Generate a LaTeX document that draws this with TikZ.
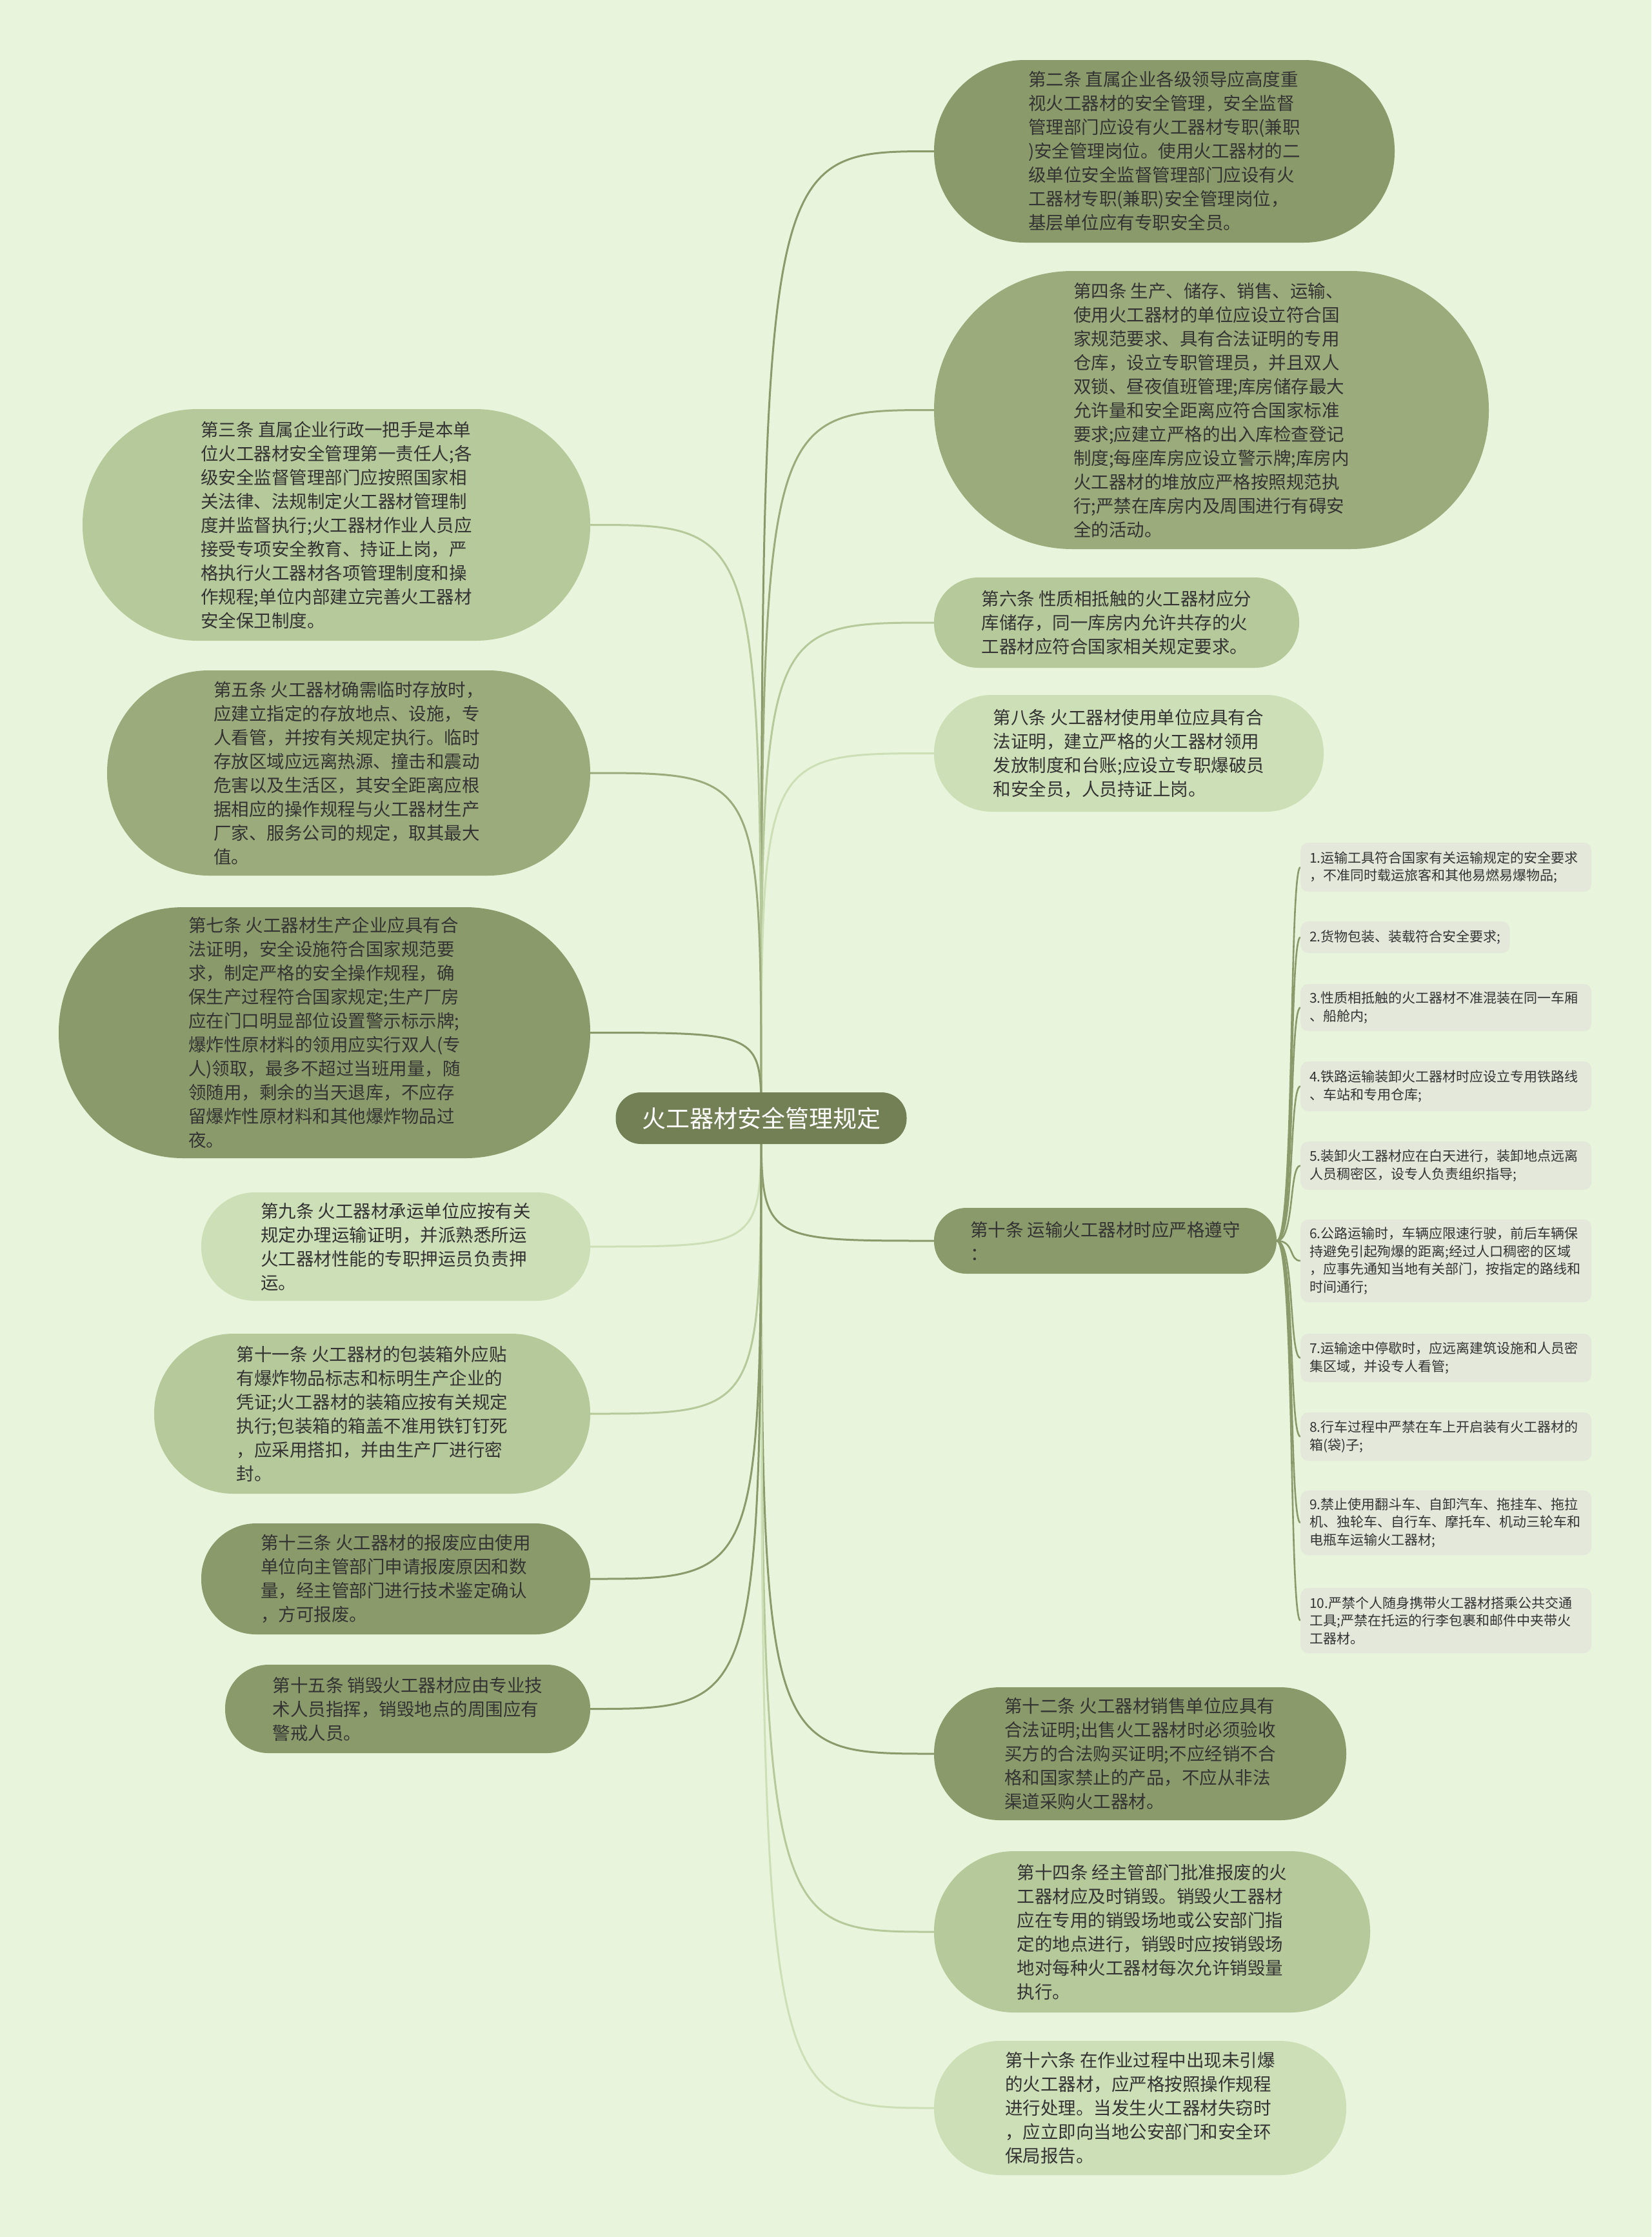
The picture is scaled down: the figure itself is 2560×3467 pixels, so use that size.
\documentclass[tikz,border=0pt]{standalone}
\usepackage{fontspec}
\setmainfont{Noto Sans CJK SC}
\pgfdeclarelayer{back}
\pgfdeclarelayer{bg}
\pgfsetlayers{back,bg,main}
\definecolor{bgc}{HTML}{E8F4DC}
\definecolor{rootc}{HTML}{738055}
\definecolor{cA}{HTML}{8A9A6A}
\definecolor{cB}{HTML}{9BAB7B}
\definecolor{cC}{HTML}{B6C99B}
\definecolor{cD}{HTML}{CDDFB6}
\definecolor{subc}{HTML}{E3E8DA}
\definecolor{txt}{HTML}{333333}
\tikzset{
  capsule/.style={rectangle, inner sep=0pt, align=left, text=txt,
    font=\fontsize{27.5}{37}\selectfont},
  subbase/.style={rectangle, anchor=west, inner xsep=14pt, inner ysep=0pt,
    align=left, text=txt, fill=subc, rounded corners=12pt,
    font=\fontsize{21}{27.5}\selectfont},
  subbox/.style={subbase, text width=423pt},
  conn/.style={line width=3pt},
  subconn/.style={line width=2.6pt, cA},
}
\newcommand{\capnode}[7]{%
  \node[capsule, fill=#6, minimum width=#4pt, minimum height=#5pt,
    rounded corners=\fpeval{#5/2-1}pt] (#1) at (#2,#3) {#7};}
\newcommand{\subnode}[4]{%
  \node[subbox, minimum height=#3pt] (#1) at (2016,#2) {#4};}
\begin{document}
\begin{tikzpicture}[x=1pt,y=-1pt]
\useasboundingbox (0,0) rectangle (2560,3467);
\begin{pgfonlayer}{back}
\fill[bgc] (0,0) rectangle (2560,3467);
\end{pgfonlayer}

% root
\node[rectangle, fill=rootc, minimum width=451pt, minimum height=80pt,
  rounded corners=39pt, text=white, font=\fontsize{37}{44}\selectfont]
  (root) at (1180,1733) {火工器材安全管理规定};

% right side
\capnode{r2}{1805}{234.5}{714}{283}{cA}{第二条 直属企业各级领导应高度重\\视火工器材的安全管理，安全监督\\管理部门应设有火工器材专职(兼职\\)安全管理岗位。使用火工器材的二\\级单位安全监督管理部门应设有火\\工器材专职(兼职)安全管理岗位，\\基层单位应有专职安全员。}
\capnode{r4}{1878}{635.5}{860}{431}{cB}{第四条 生产、储存、销售、运输、\\使用火工器材的单位应设立符合国\\家规范要求、具有合法证明的专用\\仓库，设立专职管理员，并且双人\\双锁、昼夜值班管理;库房储存最大\\允许量和安全距离应符合国家标准\\要求;应建立严格的出入库检查登记\\制度;每座库房应设立警示牌;库房内\\火工器材的堆放应严格按照规范执\\行;严禁在库房内及周围进行有碍安\\全的活动。}
\capnode{r6}{1731}{965}{566}{140}{cC}{第六条 性质相抵触的火工器材应分\\库储存，同一库房内允许共存的火\\工器材应符合国家相关规定要求。}
\capnode{r8}{1750}{1167.5}{604}{181}{cD}{第八条 火工器材使用单位应具有合\\法证明，建立严格的火工器材领用\\发放制度和台账;应设立专职爆破员\\和安全员，人员持证上岗。}
\capnode{r10}{1713.5}{1923}{531}{102}{cA}{第十条 运输火工器材时应严格遵守\\：}
\capnode{r12}{1767.5}{2718}{639}{206}{cA}{第十二条 火工器材销售单位应具有\\合法证明;出售火工器材时必须验收\\买方的合法购买证明;不应经销不合\\格和国家禁止的产品，不应从非法\\渠道采购火工器材。}
\capnode{r14}{1786}{2994}{676}{250}{cC}{第十四条 经主管部门批准报废的火\\工器材应及时销毁。销毁火工器材\\应在专用的销毁场地或公安部门指\\定的地点进行，销毁时应按销毁场\\地对每种火工器材每次允许销毁量\\执行。}
\capnode{r16}{1767.5}{3267}{639}{208}{cD}{第十六条 在作业过程中出现未引爆\\的火工器材，应严格按照操作规程\\进行处理。当发生火工器材失窃时\\，应立即向当地公安部门和安全环\\保局报告。}

% left side
\capnode{l3}{521.5}{813.5}{787}{359}{cC}{第三条 直属企业行政一把手是本单\\位火工器材安全管理第一责任人;各\\级安全监督管理部门应按照国家相\\关法律、法规制定火工器材管理制\\度并监督执行;火工器材作业人员应\\接受专项安全教育、持证上岗，严\\格执行火工器材各项管理制度和操\\作规程;单位内部建立完善火工器材\\安全保卫制度。}
\capnode{l5}{540.5}{1198}{749}{318}{cB}{第五条 火工器材确需临时存放时，\\应建立指定的存放地点、设施，专\\人看管，并按有关规定执行。临时\\存放区域应远离热源、撞击和震动\\危害以及生活区，其安全距离应根\\据相应的操作规程与火工器材生产\\厂家、服务公司的规定，取其最大\\值。}
\capnode{l7}{503}{1600.5}{824}{389}{cA}{第七条 火工器材生产企业应具有合\\法证明，安全设施符合国家规范要\\求，制定严格的安全操作规程，确\\保生产过程符合国家规定;生产厂房\\应在门口明显部位设置警示标示牌;\\爆炸性原材料的领用应实行双人(专\\人)领取，最多不超过当班用量，随\\领随用，剩余的当天退库，不应存\\留爆炸性原材料和其他爆炸物品过\\夜。}
\capnode{l9}{613.5}{1932}{603}{168}{cD}{第九条 火工器材承运单位应按有关\\规定办理运输证明，并派熟悉所运\\火工器材性能的专职押运员负责押\\运。}
\capnode{l11}{577}{2191}{676}{248}{cC}{第十一条 火工器材的包装箱外应贴\\有爆炸物品标志和标明生产企业的\\凭证;火工器材的装箱应按有关规定\\执行;包装箱的箱盖不准用铁钉钉死\\，应采用搭扣，并由生产厂进行密\\封。}
\capnode{l13}{613.5}{2447}{603}{172}{cA}{第十三条 火工器材的报废应由使用\\单位向主管部门申请报废原因和数\\量，经主管部门进行技术鉴定确认\\，方可报废。}
\capnode{l15}{632}{2648.5}{566}{137}{cA}{第十五条 销毁火工器材应由专业技\\术人员指挥，销毁地点的周围应有\\警戒人员。}

% sub items of 第十条
\subnode{s1}{1344}{76}{1.运输工具符合国家有关运输规定的安全要求\\，不准同时载运旅客和其他易燃易爆物品;}
\node[subbase, minimum height=49pt] (s2) at (2016,1452.5) {2.货物包装、装载符合安全要求;};
\subnode{s3}{1561.5}{73}{3.性质相抵触的火工器材不准混装在同一车厢\\、船舱内;}
\subnode{s4}{1683.5}{77}{4.铁路运输装卸火工器材时应设立专用铁路线\\、车站和专用仓库;}
\subnode{s5}{1806.5}{75}{5.装卸火工器材应在白天进行，装卸地点远离\\人员稠密区，设专人负责组织指导;}
\subnode{s6}{1954}{128}{6.公路运输时，车辆应限速行驶，前后车辆保\\持避免引起殉爆的距离;经过人口稠密的区域\\，应事先通知当地有关部门，按指定的路线和\\时间通行;}
\subnode{s7}{2104.5}{75}{7.运输途中停歇时，应远离建筑设施和人员密\\集区域，并设专人看管;}
\subnode{s8}{2226.5}{75}{8.行车过程中严禁在车上开启装有火工器材的\\箱(袋)子;}
\subnode{s9}{2360}{100}{9.禁止使用翻斗车、自卸汽车、拖挂车、拖拉\\机、独轮车、自行车、摩托车、机动三轮车和\\电瓶车运输火工器材;}
\subnode{s10}{2511.5}{101}{10.严禁个人随身携带火工器材搭乘公共交通\\工具;严禁在托运的行李包裹和邮件中夹带火\\工器材。}

\begin{pgfonlayer}{bg}
  \foreach \n/\c in {r2/cA,r4/cB,r6/cC,r8/cD,r10/cA,r12/cA,r14/cC,r16/cD}{
    \draw[conn, \c] (root.center) .. controls (root.center |- \n.west) .. (\n.west);
  }
  \foreach \n/\c in {l3/cC,l5/cB,l7/cA,l9/cD,l11/cC,l13/cA,l15/cA}{
    \draw[conn, \c] (root.center) .. controls (root.center |- \n.east) .. (\n.east);
  }
  \foreach \n in {s1,s2,s3,s4,s5,s6,s7,s8,s9,s10}{
    \draw[subconn] (r10.east) .. controls +(28,0) and +(-18,0) .. (\n.west);
  }
\end{pgfonlayer}
\end{tikzpicture}
\end{document}
